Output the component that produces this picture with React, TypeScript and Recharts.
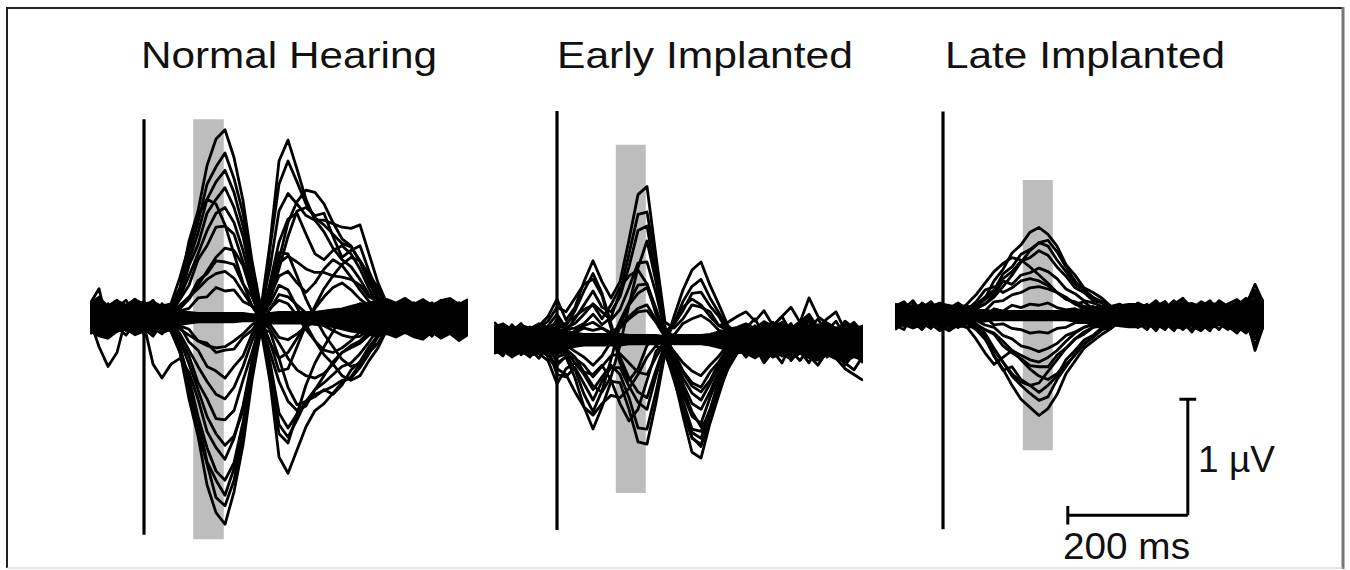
import { ComposedChart, Line, Area, XAxis, YAxis, ReferenceArea, ReferenceLine } from 'recharts';

// time axis (ms after stimulus onset) for each group
const nhTimes = [-90, -75, -60, -45, -30, -15, 0, 15, 30, 45, 60, 75, 90, 105, 120, 135, 150, 165, 180, 195, 210, 225, 240, 255, 270, 285, 300, 315, 330, 345, 360, 375, 390, 405, 420, 435, 450, 465, 480, 495, 510, 525, 540];
const eiTimes = [-105, -90, -75, -60, -45, -30, -15, 0, 15, 30, 45, 60, 75, 90, 105, 120, 135, 150, 165, 180, 195, 210, 225, 240, 255, 270, 285, 300, 315, 330, 345, 360, 375, 390, 405, 420, 435, 450, 465, 480, 495, 510];
const liTimes = [-80, -65, -50, -35, -20, -5, 10, 25, 40, 55, 70, 85, 100, 115, 130, 145, 160, 175, 190, 205, 220, 235, 250, 265, 280, 295, 310, 325, 340, 355, 370, 385, 400, 415, 430, 445, 460, 475, 490, 505, 520, 535];

// channel traces in µV
const nhTraces = [
  [0.12, 0.25, -0.08, 0.1, 0.02, -0.06, 0.08, 0.15, 0.04, 0.1, 0.26, 0.66, 0.92, 1.31, 1.54, 1.62, 1.38, 1.01, 0.49, 0.08, 0.64, 1.35, 1.53, 1.28, 1.02, 0.84, 0.74, 0.6, 0.5, 0.44, 0.33, 0.2, 0.15, 0.02, 0.08, -0.05, 0.1, 0.03, -0.08, 0.12, 0.04, -0.06, 0.09],
  [-0.1, -0.02, 0.06, -0.12, -0.04, 0.07, -0.09, -0.16, -0.05, -0.12, -0.3, -0.7, -1.02, -1.44, -1.68, -1.78, -1.5, -1.1, -0.54, -0.1, -0.55, -1.2, -1.34, -1.14, -0.94, -0.8, -0.74, -0.65, -0.56, -0.51, -0.4, -0.28, -0.14, -0.1, 0.0, 0.06, -0.1, -0.03, 0.08, -0.12, -0.05, 0.04, -0.09],
  [0.04, 0.1, 0.0, -0.07, 0.06, 0.11, -0.03, 0.05, 0.09, 0.09, 0.25, 0.55, 0.82, 1.15, 1.3, 1.42, 1.2, 0.9, 0.43, 0.05, -0.52, -1.0, -1.08, -0.83, -0.58, -0.39, -0.25, -0.12, 0.02, 0.08, 0.12, 0.1, 0.12, 0.0, 0.06, -0.08, 0.05, 0.12, -0.02, 0.07, -0.1, 0.03, 0.08],
  [-0.14, -0.06, 0.03, -0.02, -0.11, 0.04, 0.0, -0.08, -0.13, -0.1, -0.25, -0.6, -0.88, -1.24, -1.4, -1.53, -1.3, -0.96, -0.45, -0.08, 0.6, 1.15, 1.35, 1.17, 0.98, 0.86, 0.8, 0.72, 0.64, 0.61, 0.49, 0.35, 0.18, 0.13, 0.0, 0.07, -0.04, 0.1, 0.02, -0.07, 0.11, 0.0, -0.05],
  [0.08, -0.04, 0.02, 0.13, 0.06, -0.03, 0.1, 0.04, -0.02, 0.08, 0.17, 0.45, 0.63, 0.9, 1.02, 1.12, 0.95, 0.7, 0.33, 0.06, 0.43, 0.92, 1.07, 0.98, 0.88, 0.84, 0.84, 0.81, 0.78, 0.77, 0.8, 0.55, 0.3, 0.12, 0.08, 0.02, 0.1, -0.05, 0.06, 0.12, -0.01, 0.07, 0.03],
  [-0.05, 0.08, -0.1, -0.03, 0.05, -0.12, -0.06, -0.4, -0.52, -0.4, -0.35, -0.47, -0.7, -0.98, -1.12, -1.22, -1.04, -0.76, -0.37, -0.07, -0.38, -0.82, -0.95, -0.83, -0.72, -0.66, -0.63, -0.59, -0.54, -0.52, -0.43, -0.31, -0.16, -0.1, -0.02, -0.1, 0.03, -0.07, -0.13, 0.01, -0.06, -0.11, 0.02],
  [0.0, 0.09, 0.05, -0.06, 0.1, 0.03, -0.08, 0.06, 0.11, 0.04, 0.16, 0.28, 0.5, 0.62, 0.78, 0.79, 0.72, 0.48, 0.27, 0.02, 0.25, 0.56, 0.55, 0.36, 0.16, 0.0, -0.14, -0.25, -0.36, -0.42, -0.4, -0.3, -0.22, -0.08, -0.06, 0.05, -0.02, 0.08, 0.13, 0.01, 0.06, -0.04, 0.1],
  [-0.09, -0.13, 0.02, 0.07, -0.05, -0.1, 0.04, -0.03, -0.07, -0.06, -0.18, -0.33, -0.56, -0.7, -0.87, -0.88, -0.8, -0.54, -0.3, -0.03, -0.21, -0.46, -0.44, -0.25, -0.06, 0.1, 0.25, 0.36, 0.46, 0.52, 0.49, 0.37, 0.26, 0.1, 0.07, -0.02, 0.06, -0.09, 0.0, -0.06, 0.04, -0.12, -0.03],
  [0.06, 0.0, 0.12, 0.03, -0.04, 0.08, 0.14, 0.01, 0.05, 0.04, 0.11, 0.17, 0.32, 0.38, 0.49, 0.48, 0.46, 0.29, 0.18, 0.0, 0.2, 0.5, 0.82, 1.0, 1.1, 1.08, 0.98, 0.82, 0.68, 0.62, 0.48, 0.3, 0.16, 0.1, 0.05, 0.09, -0.03, 0.04, 0.11, -0.06, 0.02, 0.13, 0.0],
  [-0.02, -0.25, -0.42, -0.3, 0.0, -0.07, 0.03, -0.12, 0.01, -0.04, -0.07, -0.21, -0.28, -0.42, -0.46, -0.52, -0.42, -0.33, -0.14, -0.04, -0.44, -0.92, -1.03, -0.88, -0.72, -0.62, -0.56, -0.49, -0.42, -0.39, -0.31, -0.21, -0.1, -0.08, 0.0, -0.07, 0.02, -0.11, -0.04, 0.05, -0.09, -0.01, -0.13],
  [0.1, 0.04, -0.05, 0.09, 0.15, 0.02, 0.07, -0.04, 0.03, 0.03, 0.06, 0.08, 0.17, 0.18, 0.26, 0.23, 0.24, 0.14, 0.1, 0.03, 0.12, 0.28, 0.24, 0.09, -0.06, -0.2, -0.32, -0.4, -0.5, -0.54, -0.5, -0.37, -0.26, -0.1, -0.07, 0.04, 0.11, -0.03, 0.07, 0.0, 0.12, 0.05, -0.02],
  [-0.11, -0.03, 0.08, 0.0, -0.08, 0.05, -0.13, -0.01, 0.06, 0.0, -0.07, -0.1, -0.2, -0.22, -0.3, -0.28, -0.27, -0.17, -0.11, 0.0, 0.23, 0.47, 0.53, 0.48, 0.42, 0.39, 0.39, 0.36, 0.35, 0.33, 0.28, 0.18, 0.14, 0.04, 0.05, -0.06, 0.03, -0.1, 0.05, -0.02, -0.08, 0.06, -0.04],
  [0.03, 0.11, 0.07, -0.01, 0.05, 0.12, 0.02, 0.09, 0.0, 0.08, 0.21, 0.49, 0.73, 1.02, 1.17, 1.27, 1.08, 0.79, 0.38, 0.05, 0.07, 0.2, 0.18, 0.11, 0.04, -0.02, -0.07, -0.11, -0.15, -0.17, -0.16, -0.1, -0.11, -0.02, 0.03, 0.08, -0.04, 0.06, 0.1, -0.03, 0.04, 0.09, 0.01],
  [-0.07, -0.12, -0.04, 0.05, -0.09, -0.02, -0.14, -0.06, 0.03, -0.1, -0.3, -0.6, -0.98, -1.26, -1.55, -1.62, -1.4, -1.0, -0.5, -0.09, -0.06, -0.17, -0.19, -0.14, -0.08, -0.03, 0.0, 0.03, 0.06, 0.08, 0.07, 0.04, 0.06, -0.01, 0.02, -0.09, -0.02, 0.04, -0.11, -0.05, 0.02, -0.08, -0.12],
  [0.05, -0.06, 0.11, 0.02, 0.08, -0.03, 0.13, 0.06, 0.1, 0.12, 0.35, 0.62, 0.88, 1.02, 0.98, 0.8, 0.55, 0.3, 0.1, -0.02, 0.15, 0.42, 0.7, 0.92, 0.95, 0.88, 0.9, 0.7, 0.52, 0.58, 0.62, 0.4, 0.22, 0.12, 0.05, 0.03, 0.12, -0.04, 0.08, 0.15, 0.02, 0.1, 0.05],
  [-0.03, -0.1, 0.04, -0.08, -0.15, -0.05, 0.02, -0.11, -0.06, -0.08, -0.2, -0.4, -0.62, -0.85, -1.0, -1.1, -1.02, -0.8, -0.45, -0.1, -0.12, -0.35, -0.6, -0.75, -0.72, -0.68, -0.62, -0.66, -0.58, -0.45, -0.38, -0.25, -0.16, -0.12, -0.05, -0.12, 0.0, -0.08, -0.16, -0.03, -0.1, -0.14, -0.06],
  [0.09, 0.03, -0.02, 0.12, 0.0, 0.07, 0.11, -0.02, 0.08, 0.02, 0.08, 0.16, 0.28, 0.4, 0.52, 0.6, 0.58, 0.45, 0.2, -0.05, -0.3, -0.55, -0.72, -0.8, -0.76, -0.62, -0.5, -0.38, -0.3, -0.26, -0.22, -0.15, -0.08, -0.02, 0.04, 0.08, -0.02, 0.05, 0.11, 0.0, 0.09, 0.04, 0.12],
  [-0.12, -0.05, 0.02, -0.09, -0.02, -0.13, -0.04, -0.09, -0.14, -0.05, -0.14, -0.28, -0.42, -0.55, -0.66, -0.7, -0.6, -0.42, -0.2, -0.02, 0.3, 0.65, 0.85, 0.9, 0.72, 0.55, 0.5, 0.58, 0.62, 0.55, 0.42, 0.25, 0.12, 0.06, 0.02, -0.04, 0.05, -0.1, -0.02, 0.06, -0.08, 0.01, -0.06],
  [0.02, 0.13, 0.06, -0.04, 0.1, 0.16, 0.05, 0.0, 0.12, 0.06, 0.1, 0.18, 0.25, 0.33, 0.38, 0.4, 0.34, 0.22, 0.1, 0.0, -0.22, -0.35, -0.3, -0.18, -0.05, 0.08, 0.18, 0.26, 0.3, 0.24, 0.16, 0.1, 0.04, 0.08, 0.02, 0.1, 0.04, 0.13, -0.01, 0.07, 0.14, 0.03, 0.11],
  [-0.06, 0.02, -0.12, -0.07, 0.03, -0.1, -0.02, -0.13, -0.08, -0.04, -0.1, -0.15, -0.2, -0.24, -0.26, -0.25, -0.2, -0.14, -0.06, -0.02, -0.1, -0.22, -0.35, -0.45, -0.5, -0.52, -0.48, -0.4, -0.3, -0.24, -0.2, -0.12, -0.08, -0.04, -0.08, -0.01, -0.09, -0.15, -0.04, -0.11, 0.0, -0.07, -0.14],
  [0.07, 0.0, 0.1, 0.15, -0.02, 0.04, 0.09, 0.13, 0.02, 0.07, 0.18, 0.36, 0.55, 0.75, 0.9, 0.95, 0.82, 0.58, 0.28, 0.03, 0.18, 0.36, 0.4, 0.3, 0.22, 0.3, 0.42, 0.5, 0.45, 0.35, 0.24, 0.14, 0.08, 0.1, 0.03, 0.06, 0.13, 0.0, 0.09, 0.04, -0.03, 0.12, 0.07],
  [-0.08, -0.15, -0.03, -0.1, 0.02, -0.07, -0.11, -0.04, -0.1, -0.1, -0.26, -0.52, -0.85, -1.12, -1.32, -1.4, -1.25, -0.9, -0.45, -0.08, 0.08, 0.15, 0.12, 0.02, -0.1, -0.2, -0.28, -0.3, -0.26, -0.2, -0.12, -0.06, -0.1, -0.03, -0.06, -0.13, -0.05, -0.09, 0.01, -0.12, -0.07, -0.16, -0.03],
];

const eiTraces = [
  [0.15, 0.08, -0.05, 0.1, 0.02, 0.12, 0.2, 0.35, 0.17, 0.28, 0.5, 0.68, 0.5, 0.36, 0.5, 0.86, 1.25, 1.32, 0.72, 0.15, 0.1, 0.18, 0.3, 0.28, 0.24, 0.12, 0.08, 0.0, 0.06, -0.08, 0.1, 0.15, 0.04, -0.06, 0.12, 0.2, 0.08, -0.02, 0.1, 0.05, -0.1, 0.03],
  [-0.1, -0.02, -0.15, 0.03, -0.08, -0.16, -0.05, -0.2, -0.15, -0.33, -0.58, -0.77, -0.58, -0.36, -0.37, -0.6, -0.88, -0.9, -0.54, -0.12, -0.32, -0.66, -0.97, -1.02, -0.72, -0.47, -0.22, -0.1, -0.12, 0.02, -0.18, -0.06, -0.14, 0.04, -0.1, -0.2, -0.05, -0.15, -0.08, -0.22, -0.12, -0.18],
  [0.05, 0.12, 0.02, -0.06, 0.09, 0.0, 0.1, 0.15, 0.08, 0.18, 0.3, 0.42, 0.28, 0.24, 0.37, 0.63, 0.94, 0.98, 0.53, 0.1, -0.2, -0.47, -0.66, -0.72, -0.5, -0.3, -0.16, -0.03, 0.08, 0.0, 0.12, -0.04, 0.06, 0.14, -0.02, 0.09, 0.18, 0.05, 0.1, -0.03, 0.07, 0.12],
  [-0.04, 0.06, -0.1, -0.02, -0.12, 0.05, -0.08, -0.3, -0.32, -0.24, -0.38, -0.52, -0.36, -0.24, -0.24, -0.4, -0.54, -0.6, -0.31, -0.05, 0.2, 0.43, 0.6, 0.67, 0.47, 0.3, 0.12, 0.06, -0.05, 0.08, -0.1, 0.02, -0.06, 0.1, 0.0, -0.08, 0.06, -0.12, 0.03, -0.04, 0.08, -0.02],
  [0.1, 0.0, 0.07, 0.14, 0.03, -0.05, 0.12, 0.22, 0.1, 0.14, 0.22, 0.31, 0.24, 0.17, 0.26, 0.45, 0.66, 0.67, 0.4, 0.07, 0.13, 0.25, 0.4, 0.41, 0.29, 0.2, 0.06, 0.05, 0.1, 0.18, 0.04, 0.12, 0.2, 0.06, 0.15, 0.36, 0.2, 0.14, 0.05, 0.16, 0.1, 0.02],
  [-0.12, -0.04, 0.03, -0.09, -0.15, -0.02, -0.1, -0.12, -0.1, -0.2, -0.3, -0.43, -0.32, -0.22, -0.3, -0.5, -0.76, -0.77, -0.45, -0.08, -0.16, -0.33, -0.46, -0.52, -0.38, -0.22, -0.12, -0.05, -0.15, -0.06, -0.2, -0.1, -0.02, -0.18, -0.08, -0.14, -0.22, -0.1, -0.16, -0.25, -0.3, -0.35],
  [0.02, 0.09, -0.03, 0.06, 0.11, 0.04, -0.05, 0.1, 0.12, 0.25, 0.42, 0.57, 0.4, 0.14, -0.15, -0.33, -0.45, -0.5, -0.26, -0.04, -0.1, -0.2, -0.27, -0.31, -0.22, -0.14, -0.04, 0.0, 0.05, -0.08, 0.02, 0.1, -0.04, 0.07, 0.0, -0.1, 0.04, 0.12, -0.02, 0.06, 0.14, 0.04],
  [-0.08, -0.14, 0.0, 0.05, -0.06, -0.11, 0.02, -0.15, -0.12, -0.26, -0.47, -0.62, -0.44, -0.17, 0.13, 0.3, 0.4, 0.45, 0.24, 0.06, 0.04, 0.14, 0.18, 0.21, 0.16, 0.08, 0.06, 0.0, -0.07, 0.03, -0.12, 0.0, -0.05, -0.14, 0.02, -0.09, -0.03, 0.05, -0.1, -0.06, 0.0, -0.12],
  [0.07, -0.03, 0.1, 0.02, -0.07, 0.08, 0.04, 0.18, 0.09, 0.1, 0.14, 0.22, 0.13, 0.19, 0.41, 0.74, 1.08, 1.1, 0.65, 0.12, -0.28, -0.6, -0.84, -0.92, -0.66, -0.42, -0.17, -0.05, 0.04, 0.12, -0.02, 0.08, 0.15, 0.0, 0.1, 0.05, 0.13, -0.04, 0.09, 0.02, 0.11, 0.07],
  [-0.06, 0.04, -0.12, -0.05, 0.02, -0.09, -0.14, -0.22, -0.14, -0.16, -0.22, -0.32, -0.23, -0.14, -0.12, -0.2, -0.28, -0.3, -0.15, -0.02, 0.14, 0.33, 0.46, 0.52, 0.36, 0.23, 0.09, 0.05, -0.02, -0.1, 0.05, -0.06, 0.08, -0.12, -0.04, 0.03, -0.15, -0.05, 0.04, -0.08, -0.13, 0.0],
  [0.12, 0.05, -0.02, 0.09, 0.0, 0.13, 0.06, 0.02, 0.05, 0.06, 0.1, 0.08, 0.1, 0.06, 0.12, 0.2, 0.27, 0.3, 0.17, 0.03, -0.11, -0.27, -0.37, -0.41, -0.28, -0.19, -0.06, -0.04, 0.1, 0.02, 0.14, 0.06, -0.03, 0.11, 0.05, 0.17, 0.0, 0.08, 0.16, 0.03, -0.05, 0.09],
  [-0.09, -0.01, 0.06, -0.13, -0.04, 0.03, -0.11, -0.06, -0.05, -0.1, -0.15, -0.22, -0.14, -0.02, 0.16, 0.32, 0.47, 0.48, 0.27, 0.04, -0.25, -0.53, -0.77, -0.79, -0.6, -0.35, -0.15, -0.06, -0.08, 0.03, -0.14, -0.04, 0.06, -0.1, -0.18, -0.07, 0.01, -0.12, -0.05, -0.16, -0.09, -0.2],
  [-0.05, 0.08, 0.0, -0.1, 0.04, -0.07, 0.02, -0.12, -0.08, -0.15, -0.28, -0.4, -0.45, -0.32, -0.05, 0.3, 0.62, 0.85, 0.5, 0.08, -0.18, -0.38, -0.55, -0.6, -0.45, -0.26, -0.12, -0.02, 0.03, -0.08, 0.06, -0.12, 0.0, 0.05, -0.1, 0.02, -0.06, 0.07, -0.04, -0.13, 0.01, -0.07],
  [0.08, 0.02, 0.13, 0.05, -0.04, 0.1, 0.16, 0.28, 0.24, 0.36, 0.48, 0.52, 0.38, 0.1, -0.2, -0.35, -0.25, -0.05, 0.02, -0.05, -0.3, -0.62, -0.85, -0.9, -0.7, -0.42, -0.2, -0.08, 0.04, 0.1, -0.02, 0.14, 0.06, 0.0, 0.11, 0.18, 0.05, 0.12, 0.02, 0.09, 0.15, 0.06],
  [-0.1, -0.03, -0.13, 0.02, -0.06, -0.12, -0.18, -0.38, -0.25, -0.2, -0.28, -0.3, -0.22, -0.35, -0.55, -0.7, -0.6, -0.35, -0.1, -0.02, -0.2, -0.42, -0.62, -0.75, -0.66, -0.45, -0.25, -0.12, -0.06, -0.14, 0.0, -0.1, -0.2, -0.04, -0.12, -0.08, -0.17, -0.02, -0.11, -0.2, -0.26, -0.14],
  [0.0, 0.1, 0.04, -0.02, 0.08, 0.13, 0.03, 0.12, 0.14, 0.2, 0.26, 0.3, 0.18, 0.3, 0.45, 0.55, 0.6, 0.48, 0.22, 0.05, 0.15, 0.28, 0.35, 0.3, 0.2, 0.12, 0.15, 0.2, 0.24, 0.16, 0.25, 0.12, 0.2, 0.28, 0.15, 0.22, 0.1, 0.18, 0.24, 0.08, 0.14, 0.05],
  [-0.07, -0.12, 0.01, -0.05, -0.1, 0.0, -0.15, -0.25, -0.3, -0.45, -0.58, -0.65, -0.55, -0.48, -0.5, -0.42, -0.3, -0.15, -0.05, -0.1, -0.35, -0.6, -0.8, -0.85, -0.62, -0.35, -0.15, -0.05, -0.1, 0.02, -0.08, -0.15, -0.03, -0.11, 0.0, -0.06, -0.13, -0.02, -0.09, -0.15, -0.05, -0.1],
  [0.03, -0.06, 0.05, 0.11, -0.02, 0.06, -0.04, 0.05, 0.0, 0.08, 0.12, 0.15, 0.1, 0.05, 0.1, 0.18, 0.24, 0.25, 0.15, 0.02, -0.12, -0.28, -0.4, -0.45, -0.35, -0.2, -0.08, 0.0, 0.07, -0.03, 0.1, 0.02, -0.06, 0.08, 0.13, -0.01, 0.05, -0.08, 0.06, 0.1, -0.04, 0.03],
];

const liTraces = [
  [0.1, 0.04, -0.06, 0.08, 0.02, -0.04, 0.06, 0.11, 0.05, 0.1, 0.15, 0.3, 0.4, 0.54, 0.61, 0.72, 0.76, 0.7, 0.6, 0.44, 0.35, 0.24, 0.2, 0.15, 0.08, 0.07, 0.0, 0.06, -0.03, 0.08, 0.12, 0.02, -0.05, 0.07, 0.1, 0.01, 0.09, -0.04, 0.06, 0.12, 0.22, 0.08],
  [-0.08, -0.12, 0.02, -0.05, -0.1, 0.03, -0.07, -0.1, -0.04, -0.1, -0.2, -0.34, -0.46, -0.6, -0.72, -0.79, -0.86, -0.8, -0.68, -0.5, -0.39, -0.28, -0.22, -0.16, -0.11, -0.05, -0.04, -0.1, 0.02, -0.07, -0.12, -0.03, 0.04, -0.09, -0.13, -0.05, 0.01, -0.1, -0.06, -0.14, -0.08, -0.02],
  [0.02, 0.09, 0.05, -0.03, 0.1, 0.06, -0.02, 0.04, 0.08, 0.07, 0.14, 0.2, 0.32, 0.38, 0.47, 0.5, 0.56, 0.52, 0.42, 0.34, 0.24, 0.2, 0.13, 0.11, 0.05, 0.06, 0.0, 0.08, 0.03, -0.02, 0.1, 0.05, 0.13, 0.0, 0.07, 0.11, -0.02, 0.06, 0.1, 0.04, 0.15, 0.09],
  [-0.04, 0.03, -0.09, -0.02, 0.05, -0.08, -0.12, -0.05, -0.06, -0.1, -0.18, -0.35, -0.47, -0.44, -0.55, -0.6, -0.66, -0.6, -0.52, -0.38, -0.3, -0.21, -0.17, -0.1, -0.09, -0.03, -0.05, -0.02, -0.09, 0.03, -0.06, -0.11, -0.01, -0.07, 0.02, -0.1, -0.04, -0.08, -0.13, -0.03, -0.2, -0.06],
  [0.06, -0.02, 0.1, 0.03, -0.05, 0.09, 0.01, 0.07, 0.02, 0.06, 0.1, 0.18, 0.3, 0.27, 0.35, 0.37, 0.41, 0.38, 0.32, 0.23, 0.19, 0.13, 0.11, 0.08, 0.04, 0.05, 0.02, 0.05, 0.1, 0.0, 0.06, 0.13, 0.04, -0.02, 0.08, 0.03, 0.12, 0.05, -0.01, 0.09, 0.27, 0.1],
  [-0.1, -0.04, 0.04, -0.07, -0.02, -0.11, 0.02, -0.06, -0.03, -0.07, -0.12, -0.16, -0.26, -0.32, -0.37, -0.43, -0.44, -0.44, -0.34, -0.28, -0.2, -0.16, -0.1, -0.09, -0.04, -0.05, 0.0, -0.06, -0.12, -0.02, -0.08, 0.02, -0.1, -0.04, -0.07, -0.13, 0.0, -0.06, -0.09, -0.02, -0.1, -0.05],
  [0.0, 0.07, -0.04, 0.11, 0.05, 0.0, 0.08, 0.03, 0.06, 0.05, 0.04, 0.12, 0.13, 0.18, 0.2, 0.24, 0.25, 0.23, 0.2, 0.14, 0.12, 0.08, 0.07, 0.04, 0.05, 0.01, 0.03, 0.09, 0.02, 0.06, -0.03, 0.08, 0.11, 0.03, -0.01, 0.07, 0.04, 0.1, 0.0, 0.06, 0.14, 0.02],
  [-0.06, 0.0, -0.1, 0.02, -0.08, -0.03, -0.09, 0.01, -0.05, -0.04, -0.08, -0.1, -0.17, -0.2, -0.26, -0.28, -0.31, -0.28, -0.24, -0.17, -0.14, -0.1, -0.08, -0.05, -0.04, -0.01, -0.03, -0.07, 0.01, -0.05, -0.1, 0.0, -0.06, -0.12, -0.03, 0.02, -0.08, -0.05, -0.11, 0.0, -0.3, -0.07],
  [0.08, 0.12, 0.03, 0.06, 0.09, 0.01, 0.05, 0.1, 0.07, 0.09, 0.16, 0.22, 0.36, 0.42, 0.53, 0.57, 0.63, 0.6, 0.48, 0.38, 0.27, 0.22, 0.15, 0.12, 0.06, 0.05, 0.04, 0.1, 0.05, 0.11, 0.03, 0.07, 0.12, 0.06, 0.09, 0.04, 0.13, 0.08, 0.02, 0.11, 0.18, 0.06],
  [-0.12, -0.06, -0.02, -0.1, -0.04, -0.09, -0.13, -0.08, -0.1, -0.09, -0.15, -0.28, -0.4, -0.52, -0.6, -0.67, -0.73, -0.7, -0.55, -0.44, -0.33, -0.24, -0.19, -0.12, -0.1, -0.06, -0.03, -0.09, -0.04, -0.11, -0.06, -0.13, -0.02, -0.08, -0.1, -0.05, -0.12, -0.03, -0.09, -0.15, -0.07, -0.11],
  [0.04, -0.03, 0.08, 0.0, -0.06, 0.05, -0.02, 0.09, 0.0, 0.03, 0.0, 0.06, 0.04, 0.09, 0.07, 0.1, 0.09, 0.11, 0.07, 0.05, 0.06, 0.02, 0.04, 0.0, 0.03, -0.02, 0.02, 0.05, -0.04, 0.03, 0.07, -0.02, 0.04, 0.09, -0.05, 0.02, 0.06, -0.03, 0.05, 0.08, 0.0, 0.04],
  [-0.02, 0.05, -0.07, -0.11, 0.03, -0.04, 0.06, -0.03, -0.02, -0.03, -0.01, -0.08, -0.07, -0.11, -0.12, -0.15, -0.14, -0.15, -0.11, -0.1, -0.06, -0.06, -0.03, -0.04, -0.01, -0.03, 0.01, -0.04, 0.03, -0.08, -0.02, 0.04, -0.06, -0.01, -0.09, 0.02, -0.05, -0.1, -0.03, 0.01, -0.12, -0.04],
  [0.05, 0.1, 0.0, 0.07, 0.12, 0.03, 0.08, 0.04, 0.1, 0.18, 0.28, 0.38, 0.45, 0.5, 0.48, 0.42, 0.35, 0.28, 0.2, 0.15, 0.1, 0.12, 0.06, 0.08, 0.03, 0.06, 0.01, 0.09, 0.04, 0.11, 0.0, 0.06, 0.1, 0.02, 0.08, 0.13, 0.03, 0.07, 0.12, 0.05, 0.1, 0.0],
  [-0.07, 0.0, -0.05, -0.12, -0.03, -0.08, 0.01, -0.1, -0.04, -0.08, -0.12, -0.15, -0.22, -0.3, -0.38, -0.46, -0.52, -0.55, -0.5, -0.42, -0.34, -0.25, -0.18, -0.12, -0.07, -0.05, -0.02, -0.08, -0.03, -0.1, 0.0, -0.06, -0.12, -0.04, -0.09, 0.01, -0.07, -0.11, -0.02, -0.08, -0.05, -0.1],
  [0.03, -0.05, 0.06, 0.1, 0.0, 0.04, 0.09, -0.02, 0.05, 0.12, 0.22, 0.25, 0.2, 0.24, 0.3, 0.32, 0.3, 0.26, 0.2, 0.16, 0.1, 0.06, 0.08, 0.02, 0.05, 0.0, 0.04, 0.06, 0.0, 0.08, 0.12, 0.03, 0.05, -0.03, 0.1, 0.04, 0.07, 0.0, 0.09, 0.15, 0.03, 0.06],
  [-0.03, -0.09, 0.02, -0.06, -0.11, 0.0, -0.05, -0.08, -0.1, -0.2, -0.32, -0.42, -0.36, -0.3, -0.34, -0.38, -0.4, -0.36, -0.3, -0.22, -0.15, -0.1, -0.07, -0.04, -0.06, -0.02, -0.05, -0.01, -0.07, 0.02, -0.1, -0.04, -0.08, 0.0, -0.12, -0.05, -0.02, -0.09, -0.15, -0.06, -0.25, -0.08],
  [0.1, 0.06, 0.13, 0.02, 0.08, 0.11, 0.04, 0.09, 0.03, 0.06, 0.1, 0.16, 0.25, 0.35, 0.46, 0.56, 0.63, 0.65, 0.55, 0.42, 0.3, 0.22, 0.16, 0.12, 0.08, 0.1, 0.05, 0.11, 0.07, 0.13, 0.05, 0.1, 0.15, 0.06, 0.12, 0.08, 0.03, 0.1, 0.14, 0.07, 0.2, 0.12],
  [-0.11, -0.04, -0.09, -0.01, -0.07, -0.13, -0.05, -0.1, -0.07, -0.12, -0.2, -0.3, -0.4, -0.5, -0.57, -0.6, -0.58, -0.48, -0.38, -0.28, -0.2, -0.14, -0.1, -0.06, -0.08, -0.03, -0.06, -0.1, -0.05, -0.13, -0.02, -0.09, -0.06, -0.14, -0.03, -0.1, -0.07, -0.12, -0.04, -0.11, -0.16, -0.08],
];

// dense overlap of the many low-amplitude channels near zero (µV)
const nhCoreHi = [0.13, 0.18, 0.1, 0.15, 0.11, 0.16, 0.12, 0.14, 0.1, 0.08, 0.06, 0.05, 0.04, 0.04, 0.04, 0.04, 0.04, 0.04, 0.03, 0.03, 0.04, 0.05, 0.05, 0.05, 0.05, 0.05, 0.06, 0.07, 0.08, 0.1, 0.12, 0.13, 0.15, 0.16, 0.13, 0.17, 0.12, 0.16, 0.11, 0.15, 0.17, 0.12, 0.16];
const nhCoreLo = [-0.12, -0.16, -0.18, -0.12, -0.1, -0.15, -0.12, -0.13, -0.1, -0.08, -0.06, -0.05, -0.04, -0.04, -0.04, -0.04, -0.04, -0.03, -0.03, -0.04, -0.05, -0.05, -0.05, -0.05, -0.05, -0.06, -0.07, -0.08, -0.1, -0.12, -0.13, -0.15, -0.16, -0.14, -0.17, -0.13, -0.17, -0.19, -0.13, -0.18, -0.14, -0.2, -0.15];
const eiCoreHi = [0.11, 0.14, 0.09, 0.13, 0.1, 0.14, 0.11, 0.09, 0.08, 0.06, 0.05, 0.05, 0.05, 0.05, 0.05, 0.04, 0.04, 0.04, 0.04, 0.03, 0.04, 0.04, 0.04, 0.04, 0.05, 0.07, 0.09, 0.11, 0.14, 0.1, 0.16, 0.12, 0.15, 0.1, 0.16, 0.13, 0.11, 0.15, 0.1, 0.14, 0.1, 0.12];
const eiCoreLo = [-0.12, -0.1, -0.15, -0.11, -0.14, -0.12, -0.1, -0.12, -0.08, -0.06, -0.05, -0.05, -0.05, -0.05, -0.05, -0.04, -0.04, -0.04, -0.04, -0.03, -0.04, -0.04, -0.04, -0.04, -0.05, -0.07, -0.09, -0.11, -0.12, -0.16, -0.11, -0.15, -0.13, -0.17, -0.12, -0.16, -0.18, -0.13, -0.17, -0.19, -0.15, -0.18];
const liCoreHi = [0.09, 0.11, 0.07, 0.1, 0.08, 0.11, 0.09, 0.08, 0.07, 0.05, 0.05, 0.04, 0.04, 0.04, 0.04, 0.04, 0.04, 0.04, 0.04, 0.04, 0.05, 0.06, 0.07, 0.08, 0.08, 0.09, 0.1, 0.1, 0.08, 0.11, 0.09, 0.07, 0.1, 0.11, 0.08, 0.1, 0.11, 0.08, 0.1, 0.12, 0.13, 0.1];
const liCoreLo = [-0.1, -0.08, -0.11, -0.08, -0.1, -0.07, -0.1, -0.08, -0.07, -0.05, -0.05, -0.04, -0.04, -0.04, -0.04, -0.04, -0.04, -0.04, -0.04, -0.04, -0.05, -0.06, -0.07, -0.08, -0.08, -0.09, -0.1, -0.1, -0.08, -0.11, -0.07, -0.1, -0.11, -0.08, -0.1, -0.11, -0.08, -0.1, -0.12, -0.1, -0.14, -0.09];

// analysis windows (ms) shaded grey, and extent (µV) of the stimulus-onset marker
const nhWindow = [82, 133];
const eiWindow = [98, 148];
const liWindow = [133, 183];
const nhWindowV = [1.71, -1.91];
const eiWindowV = [1.68, -1.32];
const liWindowV = [1.17, -1.16];
const nhOnsetV = [1.71, -1.87];
const eiOnsetV = [1.97, -1.64];
const liOnsetV = [1.76, -1.84];

// scale bar
const scaleMs = 200;
const scaleUv = 1;

const PX_PER_MS = 0.6;
const Y_DOMAIN: [number, number] = [-2.2, 2.1];
const CHART_H = 499;
const FONT = '"Liberation Sans", Arial, Helvetica, sans-serif';

function Butterfly({ times, traces, coreHi, coreLo, win, winV, onsetV, left, top, children }: any) {
  const t0 = times[0];
  const t1 = times[times.length - 1];
  const width = Math.round((t1 - t0) * PX_PER_MS);
  const rows = times.map((t: number, i: number) => {
    const r: any = { t, core: [coreLo[i], coreHi[i]] };
    traces.forEach((tr: number[], k: number) => { r['ch' + k] = tr[i]; });
    return r;
  });
  return (
    <div style={{ position: 'absolute', left, top }}>
      <ComposedChart width={width} height={CHART_H} data={rows} margin={{ top: 0, right: 0, bottom: 0, left: 0 }}>
        <XAxis type="number" dataKey="t" domain={[t0, t1]} hide />
        <YAxis type="number" domain={Y_DOMAIN} hide />
        <ReferenceArea x1={win[0]} x2={win[1]} y1={winV[1]} y2={winV[0]} fill="#bdbdbd" fillOpacity={1} stroke="none" />
        <ReferenceLine segment={[{ x: 0, y: onsetV[0] }, { x: 0, y: onsetV[1] }]} stroke="#000" strokeWidth={3.2} />
        <Area type="linear" dataKey="core" stroke="#000" strokeWidth={2} fill="#000" fillOpacity={1}
          dot={false} activeDot={false} isAnimationActive={false} />
        {traces.map((_: number[], k: number) => (
          <Line key={k} type="linear" dataKey={'ch' + k} stroke="#000" strokeWidth={2.8}
            strokeLinejoin="round" dot={false} activeDot={false} isAnimationActive={false} />
        ))}
        {children}
      </ComposedChart>
    </div>
  );
}

export default function App() {
  const sx = 208; // scale bar corner (ms, µV) in the Late Implanted panel
  const sy = -1.72;
  return (
    <div style={{ position: 'absolute', left: 0, top: 0, width: 1350, height: 570, background: '#fff', overflow: 'hidden' }}>
      <Butterfly times={nhTimes} traces={nhTraces} coreHi={nhCoreHi} coreLo={nhCoreLo} win={nhWindow} winV={nhWindowV} onsetV={nhOnsetV} left={90} top={74} />
      <Butterfly times={eiTimes} traces={eiTraces} coreHi={eiCoreHi} coreLo={eiCoreLo} win={eiWindow} winV={eiWindowV} onsetV={eiOnsetV} left={494} top={96} />
      <Butterfly times={liTimes} traces={liTraces} coreHi={liCoreHi} coreLo={liCoreLo} win={liWindow} winV={liWindowV} onsetV={liOnsetV} left={895} top={72}>
        <ReferenceLine segment={[{ x: sx, y: sy }, { x: sx + scaleMs, y: sy }]} stroke="#000" strokeWidth={3} />
        <ReferenceLine segment={[{ x: sx + scaleMs, y: sy }, { x: sx + scaleMs, y: sy + scaleUv }]} stroke="#000" strokeWidth={3} />
        <ReferenceLine segment={[{ x: sx + scaleMs - 14, y: sy + scaleUv }, { x: sx + scaleMs + 14, y: sy + scaleUv }]} stroke="#000" strokeWidth={3} />
        <ReferenceLine segment={[{ x: sx, y: sy + 0.08 }, { x: sx, y: sy - 0.08 }]} stroke="#000" strokeWidth={3} />
      </Butterfly>
      <svg width={1350} height={570} style={{ position: 'absolute', left: 0, top: 0, pointerEvents: 'none' }}>
        <line x1={7} y1={8} x2={1343} y2={8} stroke="#222" strokeWidth={2} />
        <line x1={7} y1={7} x2={7} y2={568} stroke="#222" strokeWidth={2} />
        <line x1={1343} y1={7} x2={1343} y2={569} stroke="#777" strokeWidth={3} />
        <line x1={7} y1={568} x2={1343} y2={568} stroke="#ccc" strokeWidth={1} />
        <g fontFamily={FONT} fontSize={36} fill="#111">
          <text x={141} y={68} textLength={296} lengthAdjust="spacingAndGlyphs">Normal Hearing</text>
          <text x={557} y={68} textLength={296} lengthAdjust="spacingAndGlyphs">Early Implanted</text>
          <text x={945} y={68} textLength={280} lengthAdjust="spacingAndGlyphs">Late Implanted</text>
          <text x={1198} y={472} textLength={77} lengthAdjust="spacingAndGlyphs">1 µV</text>
          <text x={1063} y={559} textLength={127} lengthAdjust="spacingAndGlyphs">200 ms</text>
        </g>
      </svg>
    </div>
  );
}
